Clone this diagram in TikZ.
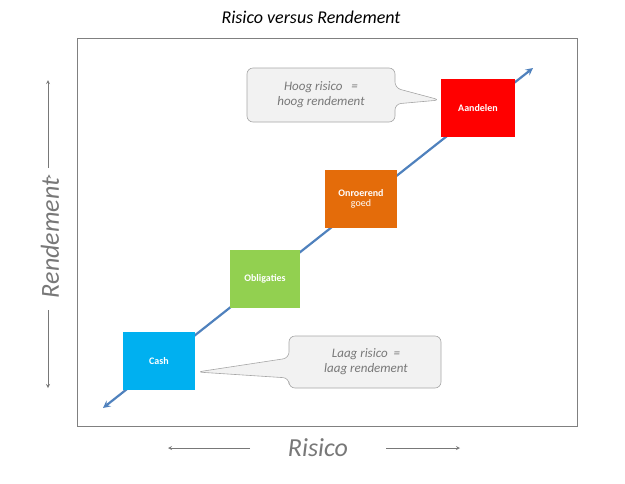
\documentclass[tikz,border=0pt]{standalone}
\usepackage{fontspec}
\setmainfont{Carlito}
\definecolor{lijn}{RGB}{79,129,189}
\definecolor{grijs}{RGB}{120,120,120}
\definecolor{cashkl}{RGB}{0,176,240}
\definecolor{oblkl}{RGB}{146,208,80}
\definecolor{onrkl}{RGB}{228,108,10}
\tikzset{
  blok/.style={minimum width=72pt,minimum height=58pt,inner sep=1pt,align=center,
    text=white,font=\fontsize{10}{12}\selectfont\bfseries},
  ballon/.style={fill=gray!10,draw=gray!70,line width=0.6pt,rounded corners=6pt},
  ballontekst/.style={text=grijs,align=center,font=\fontsize{13}{15}\selectfont\itshape},
  aspijl/.style={grijs,line width=0.8pt,-stealth}
}
\begin{document}
\begin{tikzpicture}[x=1pt,y=-1pt]
\useasboundingbox (0,0) rectangle (625,483);
\node[font=\fontsize{18}{20}\selectfont\itshape] (titel) at (311,17) {Risico versus Rendement};
\draw[gray,line width=1pt] (77,38) rectangle (577,426);

\coordinate (begin) at (103,408);
\coordinate (eind) at (533,68);
\draw[lijn,line width=2.2pt,stealth-stealth] (begin) -- (eind);

\node[blok,fill=cashkl] (cash) at (159,361) {Cash};
\node[blok,fill=oblkl,minimum width=70pt] (obl) at (265,279) {Obligaties};
\node[blok,fill=onrkl] (onr) at (361,199) {Onroerend\\[-2pt]{\mdseries goed}};
\node[blok,fill=red,minimum width=74pt] (aand) at (478,108) {Aandelen};

% ballonnen
\draw[ballon] (247,68) -- (395,68) -- (395,88) -- (440,100) -- (395,104) -- (395,122)
  -- (247,122) -- cycle;
\node[ballontekst] (hoog) at (321,95) {Hoog risico \ \ =\\hoog rendement};
\draw[ballon] (289,336) -- (441,336) -- (441,388) -- (289,388) -- (289,378)
  -- (197,372) -- (289,358) -- cycle;
\node[ballontekst] (laag) at (366,362) {Laag risico \ =\\laag rendement};

% assen
\node[grijs,rotate=90,font=\fontsize{26}{28}\selectfont\itshape] (rend) at (50,238) {Rendement};
\draw[aspijl] (rend.east) ++(-1,0) coordinate (r1) ;
\draw[aspijl] (48,168) -- (48,80);
\draw[aspijl] (48,310) -- (48,388);
\node[grijs,font=\fontsize{26}{28}\selectfont\itshape] (ris) at (318,448) {Risico};
\draw[aspijl] (250,448) -- (168,448);
\draw[aspijl] (386,448) -- (460,448);
\end{tikzpicture}
\end{document}
